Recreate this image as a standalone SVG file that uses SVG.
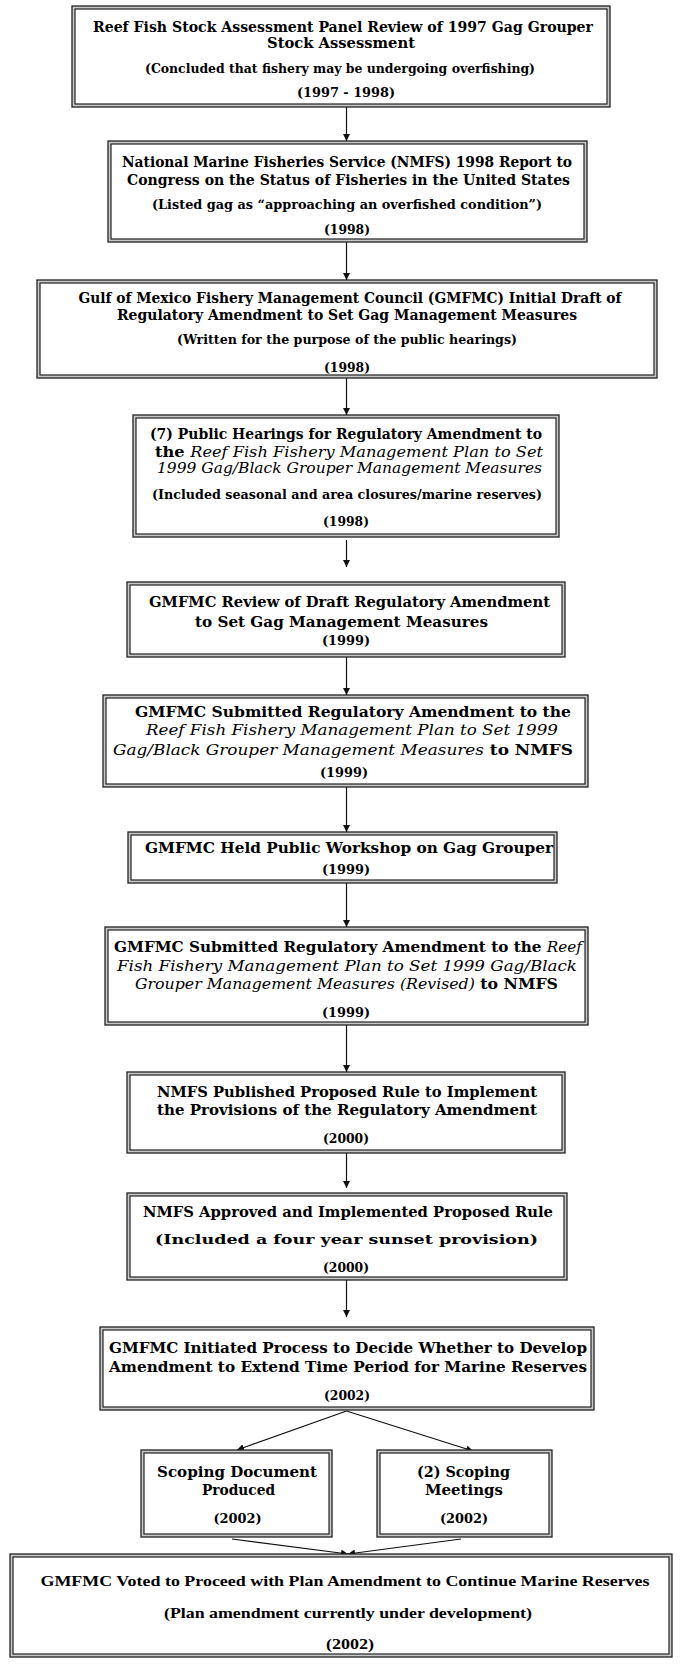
<svg xmlns="http://www.w3.org/2000/svg" width="681" height="1665" viewBox="0 0 681 1665">
<defs>
<style>
.o{fill:#c8c8c8;stroke:#222;stroke-width:1.3}
.i{fill:#fff;stroke:#222;stroke-width:1.2}
text{font-family:"DejaVu Serif","Liberation Serif",serif;font-weight:bold;fill:#000;text-anchor:middle}
.m{font-size:14.5px}
.s{font-size:12.5px}
.y{font-size:13px}
.t{font-family:"Liberation Serif","Times New Roman",serif;font-size:15px}
.it{font-style:italic;font-weight:normal}
.c{stroke:#111;stroke-width:1.2;fill:none;marker-end:url(#ah)}
</style>
<marker id="ah" markerUnits="userSpaceOnUse" markerWidth="8" markerHeight="8" refX="7" refY="3.5" orient="auto">
<path d="M0,0 L7,3.5 L0,7 z" fill="#111"/>
</marker>
</defs>
<rect width="681" height="1665" fill="#fff"/>
<g id="connectors">
<line class="c" x1="346.5" y1="107" x2="346.5" y2="141"/>
<line class="c" x1="346.5" y1="242" x2="346.5" y2="280"/>
<line class="c" x1="346.5" y1="378" x2="346.5" y2="415"/>
<line class="c" x1="346.5" y1="540" x2="346.5" y2="567"/>
<line class="c" x1="346.5" y1="657" x2="346.5" y2="695"/>
<line class="c" x1="346.5" y1="787" x2="346.5" y2="832"/>
<line class="c" x1="346.5" y1="883" x2="346.5" y2="927"/>
<line class="c" x1="346.5" y1="1025" x2="346.5" y2="1072"/>
<line class="c" x1="346.5" y1="1153" x2="346.5" y2="1188"/>
<line class="c" x1="346.5" y1="1280" x2="346.5" y2="1317"/>
<line class="c" x1="346.5" y1="1411" x2="237" y2="1450"/>
<line class="c" x1="346.5" y1="1411" x2="473" y2="1451"/>
<line class="c" x1="232" y1="1539" x2="348" y2="1554"/>
<line class="c" x1="461" y1="1539" x2="348" y2="1554"/>
</g>
<g id="n1">
<rect class="o" x="72" y="6" width="538" height="101"/><rect class="i" x="75" y="9" width="532" height="95"/>
<text class="m" x="343" y="32" textLength="500" lengthAdjust="spacingAndGlyphs">Reef Fish Stock Assessment Panel Review of 1997 Gag Grouper</text>
<text class="m" x="341" y="48" textLength="148" lengthAdjust="spacingAndGlyphs">Stock Assessment</text>
<text class="s" x="340" y="73" textLength="390" lengthAdjust="spacingAndGlyphs">(Concluded that fishery may be undergoing overfishing)</text>
<text class="y" x="346" y="97" textLength="98" lengthAdjust="spacingAndGlyphs">(1997 - 1998)</text>
</g>
<g id="n2">
<rect class="o" x="108" y="141" width="479" height="101"/><rect class="i" x="111" y="144" width="473" height="95"/>
<text class="m" x="347" y="167" textLength="450" lengthAdjust="spacingAndGlyphs">National Marine Fisheries Service (NMFS) 1998 Report to</text>
<text class="m" x="348.5" y="185" textLength="443" lengthAdjust="spacingAndGlyphs">Congress on the Status of Fisheries in the United States</text>
<text class="s" x="347" y="209" textLength="390" lengthAdjust="spacingAndGlyphs">(Listed gag as “approaching an overfished condition”)</text>
<text class="y" x="347" y="234" textLength="46" lengthAdjust="spacingAndGlyphs">(1998)</text>
</g>
<g id="n3">
<rect class="o" x="37" y="280" width="620" height="98"/><rect class="i" x="40" y="283" width="614" height="92"/>
<text class="m" x="350" y="303" textLength="543" lengthAdjust="spacingAndGlyphs">Gulf of Mexico Fishery Management Council (GMFMC) Initial Draft of</text>
<text class="m" x="347" y="320" textLength="460" lengthAdjust="spacingAndGlyphs">Regulatory Amendment to Set Gag Management Measures</text>
<text class="s" x="347" y="344" textLength="340" lengthAdjust="spacingAndGlyphs">(Written for the purpose of the public hearings)</text>
<text class="y" x="347" y="372" textLength="46" lengthAdjust="spacingAndGlyphs">(1998)</text>
</g>
<g id="n4">
<rect class="o" x="133" y="415" width="426" height="122"/><rect class="i" x="136" y="418" width="420" height="116"/>
<text class="m" x="346" y="439" textLength="392" lengthAdjust="spacingAndGlyphs">(7) Public Hearings for Regulatory Amendment to</text>
<text class="m" x="349" y="457" textLength="388" lengthAdjust="spacingAndGlyphs">the <tspan class="it">Reef Fish Fishery Management Plan to Set</tspan></text>
<text class="m" x="349.5" y="473" textLength="385" lengthAdjust="spacingAndGlyphs"><tspan class="it">1999 Gag/Black Grouper Management Measures</tspan></text>
<text class="s" x="347" y="499" textLength="390" lengthAdjust="spacingAndGlyphs">(Included seasonal and area closures/marine reserves)</text>
<text class="y" x="346" y="526" textLength="46" lengthAdjust="spacingAndGlyphs">(1998)</text>
</g>
<g id="n5">
<rect class="o" x="127" y="582" width="438" height="75"/><rect class="i" x="130" y="585" width="432" height="69"/>
<text class="m" x="349.5" y="607" textLength="401" lengthAdjust="spacingAndGlyphs">GMFMC Review of Draft Regulatory Amendment</text>
<text class="m" x="341.5" y="627" textLength="293" lengthAdjust="spacingAndGlyphs">to Set Gag Management Measures</text>
<text class="y" x="346" y="645" textLength="48" lengthAdjust="spacingAndGlyphs">(1999)</text>
</g>
<g id="n6">
<rect class="o" x="103" y="695" width="485" height="92"/><rect class="i" x="106" y="698" width="479" height="86"/>
<text class="m" x="353" y="717" textLength="436" lengthAdjust="spacingAndGlyphs">GMFMC Submitted Regulatory Amendment to the</text>
<text class="m" x="352" y="735" textLength="412" lengthAdjust="spacingAndGlyphs"><tspan class="it">Reef Fish Fishery Management Plan to Set 1999</tspan></text>
<text class="m" x="343" y="755" textLength="460" lengthAdjust="spacingAndGlyphs"><tspan class="it">Gag/Black Grouper Management Measures</tspan> to NMFS</text>
<text class="y" x="344" y="777" textLength="48" lengthAdjust="spacingAndGlyphs">(1999)</text>
</g>
<g id="n7">
<rect class="o" x="128" y="832" width="429" height="51"/><rect class="i" x="131" y="835" width="423" height="45"/>
<text class="m" x="349" y="853" textLength="408" lengthAdjust="spacingAndGlyphs">GMFMC Held Public Workshop on Gag Grouper</text>
<text class="y" x="346" y="874" textLength="48" lengthAdjust="spacingAndGlyphs">(1999)</text>
</g>
<g id="n8">
<rect class="o" x="105" y="927" width="483" height="98"/><rect class="i" x="108" y="930" width="477" height="92"/>
<text class="m" x="348" y="952" textLength="468" lengthAdjust="spacingAndGlyphs">GMFMC Submitted Regulatory Amendment to the <tspan class="it">Reef</tspan></text>
<text class="m" x="347" y="971" textLength="460" lengthAdjust="spacingAndGlyphs"><tspan class="it">Fish Fishery Management Plan to Set 1999 Gag/Black</tspan></text>
<text class="m" x="346.5" y="989" textLength="423" lengthAdjust="spacingAndGlyphs"><tspan class="it">Grouper Management Measures (Revised)</tspan> to NMFS</text>
<text class="y" x="346" y="1017" textLength="48" lengthAdjust="spacingAndGlyphs">(1999)</text>
</g>
<g id="n9">
<rect class="o" x="127" y="1072" width="438" height="81"/><rect class="i" x="130" y="1075" width="432" height="75"/>
<text class="m" x="347" y="1097" textLength="380" lengthAdjust="spacingAndGlyphs">NMFS Published Proposed Rule to Implement</text>
<text class="m" x="347" y="1115" textLength="380" lengthAdjust="spacingAndGlyphs">the Provisions of the Regulatory Amendment</text>
<text class="y" x="346" y="1143" textLength="46" lengthAdjust="spacingAndGlyphs">(2000)</text>
</g>
<g id="n10">
<rect class="o" x="127" y="1193" width="440" height="87"/><rect class="i" x="130" y="1196" width="434" height="81"/>
<text class="m" x="348" y="1217" textLength="410" lengthAdjust="spacingAndGlyphs">NMFS Approved and Implemented Proposed Rule</text>
<text class="s" x="346.5" y="1244" textLength="383" lengthAdjust="spacingAndGlyphs">(Included a four year sunset provision)</text>
<text class="y" x="346" y="1272" textLength="46" lengthAdjust="spacingAndGlyphs">(2000)</text>
</g>
<g id="n11">
<rect class="o" x="100" y="1327" width="494" height="83"/><rect class="i" x="103" y="1330" width="488" height="77"/>
<text class="m" x="348" y="1353" textLength="478" lengthAdjust="spacingAndGlyphs">GMFMC Initiated Process to Decide Whether to Develop</text>
<text class="m" x="348" y="1372" textLength="478" lengthAdjust="spacingAndGlyphs">Amendment to Extend Time Period for Marine Reserves</text>
<text class="y" x="347" y="1400" textLength="46" lengthAdjust="spacingAndGlyphs">(2002)</text>
</g>
<g id="n12a">
<rect class="o" x="141" y="1450" width="191" height="87"/><rect class="i" x="144" y="1453" width="185" height="81"/>
<text class="m" x="237" y="1477" textLength="160" lengthAdjust="spacingAndGlyphs">Scoping Document</text>
<text class="m" x="238.5" y="1495" textLength="73" lengthAdjust="spacingAndGlyphs">Produced</text>
<text class="y" x="237.5" y="1523" textLength="48" lengthAdjust="spacingAndGlyphs">(2002)</text>
</g>
<g id="n12b">
<rect class="o" x="377" y="1450" width="175" height="87"/><rect class="i" x="380" y="1453" width="169" height="81"/>
<text class="m" x="463.5" y="1477" textLength="93" lengthAdjust="spacingAndGlyphs">(2) Scoping</text>
<text class="m" x="464" y="1495" textLength="78" lengthAdjust="spacingAndGlyphs">Meetings</text>
<text class="y" x="464" y="1523" textLength="48" lengthAdjust="spacingAndGlyphs">(2002)</text>
</g>
<g id="n13">
<rect class="o" x="10" y="1554" width="662" height="103"/><rect class="i" x="13" y="1557" width="656" height="97"/>
<text class="t" x="345" y="1586" textLength="609" lengthAdjust="spacingAndGlyphs">GMFMC Voted to Proceed with Plan Amendment to Continue Marine Reserves</text>
<text class="t" x="348" y="1618" textLength="368" lengthAdjust="spacingAndGlyphs">(Plan amendment currently under development)</text>
<text class="t" x="350" y="1649" textLength="48" lengthAdjust="spacingAndGlyphs">(2002)</text>
</g>
</svg>
